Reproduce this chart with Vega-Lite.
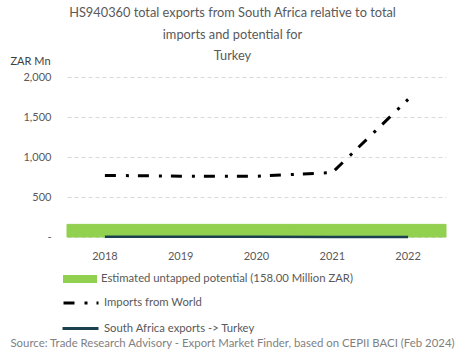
{
  "$schema": "https://vega.github.io/schema/vega-lite/v6.json",
  "width": 379,
  "height": 160,
  "autosize": {"type": "none"},
  "padding": {"left": 67, "top": 77, "right": 19, "bottom": 122},
  "background": "white",
  "title": {
    "text": ["HS940360 total exports from South Africa relative to total", "imports and potential for", "Turkey"],
    "anchor": "middle",
    "dx": -24,
    "offset": -8,
    "fontSize": 12.8,
    "font": "Lato",
    "fontWeight": "normal",
    "color": "#595959",
    "lineHeight": 21.5
  },
  "config": {
    "view": {"stroke": null},
    "font": "Lato"
  },
  "data": {
    "values": [
      {"year": "2018", "potential": 158, "imports": 770, "sa": 2},
      {"year": "2019", "potential": 158, "imports": 760, "sa": 3},
      {"year": "2020", "potential": 158, "imports": 760, "sa": 2},
      {"year": "2021", "potential": 158, "imports": 805, "sa": 1},
      {"year": "2022", "potential": 158, "imports": 1720, "sa": 1}
    ]
  },
  "transform": [
    {"fold": ["potential", "imports", "sa"], "as": ["series", "value"]}
  ],
  "encoding": {
    "x": {
      "field": "year",
      "type": "ordinal",
      "scale": {"paddingInner": 0, "paddingOuter": 0},
      "axis": {
        "labelAngle": 0,
        "ticks": false,
        "domain": false,
        "labelPadding": 13,
        "labelFontSize": 11,
        "labelColor": "#595959",
        "title": "Source: Trade Research Advisory - Export Market Finder, based on CEPII BACI (Feb 2024)",
        "titleFontSize": 11.4,
        "titleFontWeight": "normal",
        "titleColor": "#7f7f7f",
        "titleAnchor": "middle",
        "titleAlign": "center",
        "titleX": 165,
        "titleY": 100,
        "titleBaseline": "top"
      }
    },
    "y": {
      "field": "value",
      "type": "quantitative",
      "scale": {"domain": [0, 2000], "nice": false},
      "axis": {
        "values": [0, 500, 1000, 1500, 2000],
        "labelExpr": "datum.value == 0 ? '-' : format(datum.value, ',')",
        "ticks": false,
        "domain": false,
        "grid": true,
        "gridColor": "#d9d9d9",
        "gridDash": [4, 3],
        "labelPadding": 16,
        "labelFontSize": 11,
        "labelColor": "#595959",
        "title": "ZAR Mn",
        "titleAngle": 0,
        "titleAlign": "left",
        "titleBaseline": "middle",
        "titleX": -57,
        "titleY": -16,
        "titleFontSize": 11,
        "titleFontWeight": "normal",
        "titleColor": "#404040"
      }
    }
  },
  "layer": [
    {
      "transform": [{"filter": "datum.series == 'potential'"}],
      "mark": {"type": "bar", "stroke": "#92d050", "strokeWidth": 1},
      "encoding": {
        "fill": {
          "datum": "Estimated untapped potential (158.00 Million ZAR)",
          "scale": {"range": ["#92d050"]},
          "legend": {
            "orient": "none",
            "legendX": -4,
            "legendY": 185,
            "title": null,
            "symbolType": "M-1,-0.24H1V0.24H-1Z",
            "symbolSize": 1156,
            "symbolStrokeWidth": 0,
            "labelFontSize": 11.3,
            "labelColor": "#595959",
            "labelOffset": 4,
            "labelLimit": 400
          }
        }
      }
    },
    {
      "transform": [{"filter": "datum.series == 'imports'"}],
      "mark": {"type": "line", "stroke": "black", "strokeWidth": 3},
      "encoding": {
        "strokeDash": {
          "datum": "Imports from World",
          "scale": {"range": [[11, 10, 3, 9]]},
          "legend": {
            "orient": "none",
            "legendX": -5,
            "legendY": 207,
            "title": null,
            "symbolType": "stroke",
            "symbolSize": 1225,
            "symbolStrokeWidth": 3,
            "symbolStrokeColor": "black",
            "symbolDash": [10, 9, 3, 9],
            "labelFontSize": 11.3,
            "labelColor": "#595959",
            "labelOffset": 4,
            "labelLimit": 400
          }
        }
      }
    },
    {
      "transform": [{"filter": "datum.series == 'sa'"}],
      "mark": {"type": "line", "strokeWidth": 2.5},
      "encoding": {
        "stroke": {
          "datum": "South Africa exports -> Turkey",
          "scale": {"range": ["#1b4150"]},
          "legend": {
            "orient": "none",
            "legendX": -6,
            "legendY": 232,
            "title": null,
            "symbolType": "stroke",
            "symbolSize": 1296,
            "symbolStrokeWidth": 3,
            "labelFontSize": 11.3,
            "labelColor": "#595959",
            "labelOffset": 4,
            "labelLimit": 400
          }
        }
      }
    }
  ]
}
